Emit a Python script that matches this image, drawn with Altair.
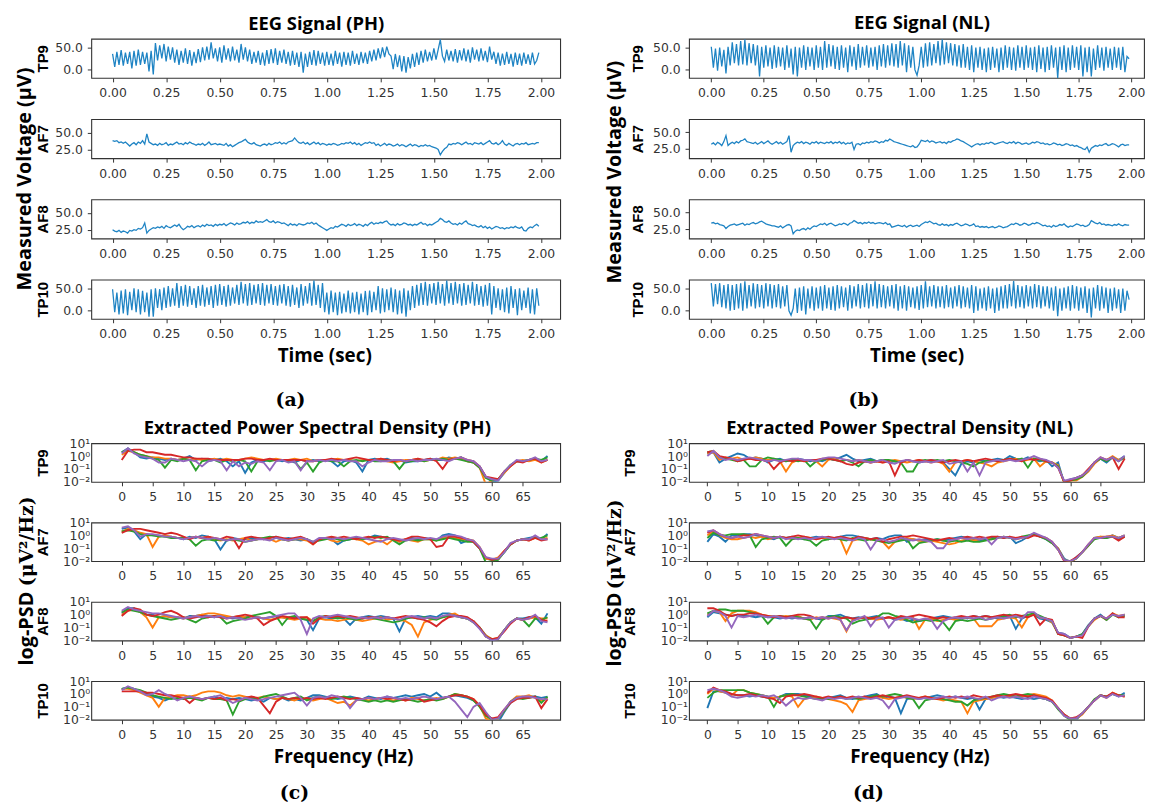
import altair as alt
import pandas as pd

# ---------------- data ----------------
time_s = [i / 100 for i in range(200)]          # sample times (s)
freq_hz = list(range(70))                         # PSD bins (Hz)
TIME_TICKS = [0, 0.25, 0.5, 0.75, 1.0, 1.25, 1.5, 1.75, 2.0]
FREQ_TICKS = [0, 5, 10, 15, 20, 25, 30, 35, 40, 45, 50, 55, 60, 65]
PSD_TICKS = [0.01, 0.1, 1, 10]
SERIES = ["s0", "s1", "s2", "s3", "s4"]
PSD_COLORS = ["#1f77b4", "#ff7f0e", "#2ca02c", "#d62728", "#9467bd"]
EEG_BLUE = "#1f84c4"

# EEG voltages (uV), PH subject
PH_TP9 = [35,5,40,10,44,8,38,12,40,2, 42,8,45,10,40,12,38,-5,42,-12,
          60,20,55,25,58,18,52,22,50,15, 45,10,42,15,48,12,44,8,40,14,
          46,16,50,20,52,22,62,25,48,18, 50,15,55,22,48,18,52,20,45,15,
          58,22,50,18,45,12,40,15,42,10, 38,8,44,12,46,14,48,10,42,15,
          45,12,40,8,42,10,38,5,40,-8, 36,5,40,10,44,8,42,12,38,8,
          40,10,36,8,42,12,38,6,40,10, 38,8,42,12,36,10,40,14,38,12,
          42,18,45,20,48,25,50,28,52,35, 30,0,35,5,32,-5,30,-8,28,2,
          35,5,38,10,42,15,45,18,40,20, 48,22,45,68,30,18,45,20,42,18,
          46,15,44,20,48,18,45,15,50,22, 45,18,48,20,42,16,52,22,40,12,
          38,8,36,10,40,12,35,6,38,10, 36,8,38,12,34,10,38,12,20,38]
PH_AF7 = [38,37,38,35,36,34,36,33,30,33, 35,32,36,34,38,33,48,36,34,32,
          33,31,34,32,33,35,31,33,32,34, 36,33,34,32,35,33,36,34,33,31,
          33,32,34,31,33,36,32,33,34,32, 33,32,31,34,30,32,29,31,33,35,
          36,38,40,36,34,33,35,32,31,30, 32,33,31,34,32,33,35,34,36,33,
          35,33,36,37,38,42,38,35,34,36, 33,35,32,34,36,33,35,32,34,33,
          31,33,32,34,33,31,32,34,33,35, 34,36,33,35,32,34,31,33,35,34,
          36,34,35,31,33,30,32,34,31,33, 32,30,31,33,30,32,31,29,31,33,
          30,32,31,29,31,30,32,30,31,29, 28,27,25,17,22,26,28,33,32,34,
          33,35,34,32,34,36,33,34,32,35, 34,33,35,32,34,36,38,34,33,35,
          32,34,38,33,31,34,32,30,33,34, 32,34,33,35,32,33,34,33,35,35]
PH_AF8 = [25,23,22,24,21,23,22,20,24,23, 25,24,27,26,28,35,20,24,26,28,
          27,29,28,30,27,31,29,28,30,32, 30,33,28,25,27,30,29,31,28,30,
          31,29,32,30,33,31,32,30,33,31, 33,32,34,31,33,35,34,32,35,33,
          34,36,35,37,34,36,35,38,36,37, 36,38,40,37,36,38,35,37,36,34,
          35,33,31,34,32,33,31,34,33,32, 33,35,34,36,33,35,32,30,28,26,
          24,26,28,27,30,29,31,33,32,30, 33,31,32,34,31,33,32,30,33,31,
          34,36,33,35,34,36,35,37,38,34, 32,33,31,34,32,33,35,34,32,33,
          31,33,32,34,36,33,34,31,33,32, 34,36,38,42,40,37,36,38,35,33,
          34,32,35,33,36,38,34,33,31,32, 30,29,31,28,30,27,29,26,28,30,
          29,27,28,26,28,27,29,28,30,28, 27,29,24,23,27,29,28,31,33,30]
PH_TP10 = [48,-5,40,-10,45,-8,48,-12,42,0, 50,-5,48,-10,44,-5,40,-15,48,-15,
           50,5,48,0,52,5,55,8,50,10, 62,5,55,10,58,8,55,12,50,5,
           55,10,58,8,52,12,55,5,58,10, 60,12,55,8,58,10,52,15,58,12,
           65,15,60,10,62,12,58,15,60,12, 62,10,58,15,60,12,55,10,58,15,
           60,10,55,8,58,12,52,5,60,10, 55,15,62,10,68,12,58,5,62,-5,
           40,-10,45,-5,40,-12,42,-8,38,-5, 45,-8,40,-5,42,-10,38,-5,44,-12,
           45,-5,42,0,55,-8,50,-5,48,0, 52,-5,48,-10,45,-8,50,-15,45,0,
           55,5,58,10,62,12,65,10,60,15, 62,12,65,15,60,10,68,15,62,12,
           65,15,60,10,62,12,58,15,65,10, 60,12,55,8,58,10,62,-10,55,5,
           50,0,48,-5,52,-8,55,5,48,-12, 50,0,45,5,52,-8,48,-10,50,10]

# EEG voltages (uV), NL subject
NL_TP9 = [52,5,48,-2,50,8,45,-8,52,10, 62,15,58,10,65,12,68,10,60,15,
          58,10,55,-15,52,5,55,8,50,2, 55,5,52,8,50,0,55,5,48,-10,
          52,-15,50,5,55,0,52,8,50,0, 55,5,52,0,65,5,58,8,55,2,
          52,0,55,5,50,-5,55,8,52,0, 58,5,52,10,55,5,50,8,52,0,
          55,8,58,5,55,10,60,8,58,5, 65,10,60,-5,55,5,52,0,-12,10,
          52,5,60,8,62,10,58,15,65,10, 68,12,62,15,60,10,58,8,55,5,
          58,5,52,0,55,-5,50,5,52,0, 48,-5,50,0,52,5,48,-5,50,0,
          55,5,52,0,50,-2,55,5,52,0, 55,5,50,0,52,-5,55,2,50,-5,
          52,0,55,5,50,-18,52,0,55,-5, 50,0,55,5,52,0,55,-15,50,-5,
          52,-15,48,0,55,5,50,-2,52,5, 48,0,52,5,50,0,52,-5,30,25]
NL_AF7 = [32,34,31,35,33,30,36,45,30,33, 35,33,36,34,37,38,40,36,35,34,
          33,35,32,34,36,33,35,37,34,32, 34,36,33,35,32,34,36,45,20,30,
          33,35,34,36,33,35,34,32,35,34, 36,33,35,34,33,35,34,36,33,35,
          34,36,33,35,32,34,33,35,24,32, 33,31,34,33,35,34,36,35,37,36,
          34,36,35,38,37,40,38,36,35,34, 33,32,31,30,29,28,30,27,28,32,
          38,37,36,38,35,37,36,34,35,36, 34,35,33,36,35,37,38,40,39,37,
          36,34,32,30,28,30,32,33,31,33, 32,34,33,35,34,32,33,34,35,36,
          34,33,35,34,36,33,35,34,32,33, 34,32,33,35,34,36,35,33,34,32,
          33,31,32,34,33,31,32,30,31,33, 32,30,31,29,30,28,27,25,24,28,
          20,26,28,30,29,31,30,32,33,30, 31,33,32,30,28,31,32,30,31,31]
NL_AF8 = [34,35,33,34,32,31,30,26,29,31, 32,33,31,32,33,34,31,33,32,34,
          35,33,34,36,37,35,33,32,31,30, 30,29,28,30,27,29,31,32,30,18,
          22,24,23,25,26,24,27,25,28,30, 29,31,33,32,34,31,33,34,32,30,
          31,33,32,34,33,31,34,35,38,36, 34,35,33,35,34,36,34,35,33,34,
          35,34,33,35,32,33,28,29,30,31, 30,29,31,28,30,31,29,30,31,29,
          32,34,36,35,37,35,33,34,32,31, 33,31,32,30,32,31,33,34,32,30,
          31,33,32,30,31,33,29,30,28,29, 28,29,27,28,29,27,28,30,29,27,
          28,29,31,33,32,34,33,31,32,34, 33,31,32,34,33,35,34,32,30,31,
          29,30,28,31,29,30,32,31,33,30, 28,30,29,31,33,32,30,31,29,30,
          32,38,36,34,33,35,32,33,31,32, 31,30,32,31,33,31,30,32,31,31]
NL_TP10 = [62,10,60,15,62,8,58,5,60,0, 58,2,60,5,62,0,66,5,58,10,
           62,5,60,8,58,5,62,10,60,5, 58,8,60,5,55,10,58,0,-10,5,
           50,-5,52,0,55,-8,50,5,55,0, 52,5,55,0,58,5,52,2,55,0,
           58,5,55,8,52,0,58,5,55,10, 60,5,58,8,62,5,60,10,66,5,
           60,8,58,5,55,10,58,5,60,0, 55,5,58,0,55,8,52,5,55,2,
           58,5,66,8,55,10,58,5,55,8, 55,5,58,8,52,5,55,10,58,5,
           55,8,52,5,58,-5,55,0,50,5, 52,0,55,5,50,-5,52,0,55,5,
           58,5,60,10,67,5,58,8,55,5, 58,10,55,5,60,8,58,5,55,10,
           55,5,52,0,55,-12,50,0,52,5, 55,0,58,5,55,0,52,5,55,-5,
           50,-15,52,5,58,0,55,5,52,-5, 50,0,52,5,48,-5,50,0,45,25]

# PSD, tenths of a decade: value = 10 ** (k / 10)  [blue, orange, green, red, purple]
PSD_PH_TP9 = [
    [3,6,3,-1,-2,-1,-2,-3,-2,-3, -2,0,-3,-2,-4,-3,-2,-4,-8,-4, -13,-5,-3,-4,-3,-3,-4,-3,-5,-3, -4,-3,-4,-3,-4,-8,-4,-3,-5,-12, -3,-2,-3,-2,-4,-3,-5,-4,-4,-3, -2,-3,-3,-1,-2,-1,-4,-5,-8,-16, -20,-19,-13,-7,-4,-4,-3,-2,-4,0],
    [1,4,3,1,0,-1,-1,-2,-2,-3, -2,-3,-2,-3,-3,-2,-3,-2,-3,-3, -2,-1,-2,-3,-3,-2,-3,-3,-2,-3, -2,-4,-3,-3,-3,-2,-3,-3,-4,-3, -3,-3,-2,-4,-5,-4,-3,-3,-2,-4, -3,-3,-1,-2,-1,-2,-4,-5,-9,-22, -19,-18,-13,-8,-4,-3,-4,-3,-5,-3],
    [3,5,3,1,0,-2,-3,-9,-3,-4, -2,-3,-11,-4,-3,-3,-5,-3,-4,-3, -4,-12,-4,-3,-4,-3,-3,-4,-4,-10, -5,-12,-5,-3,-4,-4,-8,-4,-3,-4, -3,-4,-4,-3,-4,-10,-4,-4,-3,-4, -3,-3,-2,-3,-2,-3,-4,-5,-9,-17, -19,-18,-12,-7,-4,-4,-3,-2,-3,-1],
    [-3,4,5,5,3,3,2,1,1,0, -1,-1,-2,-2,-2,-3,-3,-3,-3,-3, -2,-2,-3,-3,-2,-3,-3,-3,-3,-3, -4,-4,-3,-3,-2,-3,-3,-2,-1,-2, -3,-3,-2,-3,-4,-3,-4,-3,-2,-3, -2,-4,-10,-3,-2,-1,-3,-4,-8,-16, -17,-18,-12,-8,-4,-5,-3,-2,-5,-3],
    [2,6,2,0,-1,-2,-5,-5,-2,-3, -4,-3,-4,-8,-4,-3,-4,-11,-4,-8, -5,-6,-4,-5,-11,-4,-3,-5,-4,-11, -4,-4,-3,-4,-3,-4,-3,-4,-4,-8, -5,-3,-4,-4,-3,-3,-4,-3,-4,-3, -3,-2,-3,-4,-2,-1,-3,-4,-8,-16, -18,-19,-12,-7,-3,-4,-3,-1,-4,-3],
]
PSD_PH_AF7 = [
    [5,6,3,-3,1,0,0,-1,-1,-2, -3,-1,-2,0,-1,-3,-11,-4,-2,-3, -3,-2,-2,-3,-2,-1,-3,-2,-3,-4, -3,-6,-3,-2,-3,-7,-4,-3,-2,-3, -2,0,-1,-2,-3,-5,-3,-2,-3,-2, -3,-4,0,1,0,-6,-4,-5,-10,-18, -19,-18,-13,-7,-4,-3,-2,-1,-3,1],
    [3,5,4,2,1,-9,-1,0,-1,-2, -2,-2,-1,-2,-1,-3,-4,-3,-4,-3, -2,-4,-3,-2,-3,-5,-3,-4,-3,-3, -4,-7,-3,-2,-4,-5,-3,-2,-3,-4, -7,-5,-4,-7,-3,-5,-3,-4,-5,-3, -3,-4,-2,-1,-2,-3,-3,-4,-9,-18, -19,-17,-12,-7,-4,-3,-4,-2,-3,-2],
    [3,4,3,1,0,0,-1,-1,-2,-2, -2,-3,-8,-4,-3,-4,-3,-4,-3,-4, -5,-4,-3,-2,-1,-2,-3,-4,-3,-2, -3,-5,-4,-3,-2,-3,-4,-3,-2,-3, -2,-1,-2,-1,-4,-7,-4,-3,-4,-3, -3,-4,-3,-2,-3,-4,-5,-5,-10,-21, -20,-19,-13,-7,-4,-3,-3,-2,-2,0],
    [2,4,5,5,4,3,2,1,2,1, -1,-3,-1,-2,-1,-2,-3,-1,-2,-10, -2,-1,-2,-3,-2,-1,-2,-3,-2,-1, -3,-7,-3,-2,-1,-2,-1,-2,-3,-2, -1,-2,-1,-2,-3,-4,-3,-1,-1,-2, -3,-9,-8,-1,-1,-2,-3,-5,-10,-17, -19,-18,-12,-7,-4,-3,-4,-2,-4,-3],
    [6,7,4,-1,1,1,0,-1,-1,-2, -3,-2,-1,-2,-3,-2,-3,-4,-3,-3, -5,-4,-3,-3,-4,-2,-3,-4,-3,-2, -3,-5,-2,-2,-3,-2,-3,-2,-1,-2, -3,-4,-5,-3,-2,-3,-4,-3,-2,-3, -2,-3,-1,0,0,-1,-3,-4,-9,-17, -18,-18,-13,-6,-4,-3,-3,0,-3,-3],
]
PSD_PH_AF8 = [
    [1,5,5,2,0,0,-2,-1,-2,-2, -3,-1,-1,0,-1,-2,-1,-2,-3,-2, -2,-1,-2,-3,-2,-1,-2,-3,-2,-3, -4,-12,-3,-2,-3,-2,-3,-8,-3,-2, -1,-2,-1,-2,-3,-13,-3,-2,-1,-2, -1,-2,1,1,0,-2,-3,-5,-10,-16, -20,-18,-12,-6,-3,-3,-2,-2,-7,1],
    [0,3,4,2,-2,-10,-2,-1,-2,-2, -3,-2,-1,0,1,1,0,-1,-2,-1, -2,-3,-2,-3,-4,-3,-2,-3,-4,-3, -2,-5,-3,-4,-4,-5,-4,-3,-4,-5, -4,-3,-2,-4,-3,-4,-5,-8,-17,-6, -4,-3,-2,0,1,-2,-3,-5,-10,-16, -19,-18,-12,-6,-3,-4,-3,-2,-3,-3],
    [2,4,3,2,0,-1,-2,-3,-4,-3, -2,-4,-6,-3,-2,-1,-2,-7,-5,-4, -3,-1,0,1,2,-1,-8,-2,-1,-3, -4,-5,-2,-1,-2,-3,-2,-3,-4,-3, -2,-3,-4,-5,-6,-5,-3,-2,-3,-2, -3,-4,-2,-1,-1,-2,-3,-6,-10,-17, -19,-19,-12,-6,-3,-4,-9,-3,-4,-2],
    [-1,3,5,4,0,-1,0,2,3,1, -2,-3,-2,-1,-2,-1,-2,-3,-2,-1, 0,-1,-3,-8,-5,-3,-1,-2,-3,-2, -2,-7,-3,-1,-2,-1,-2,-1,-2,-3, -2,-2,-3,-2,-3,-2,-1,-2,-3,-4, -6,-9,-5,-2,-1,-1,-2,-5,-10,-17, -19,-18,-13,-7,-3,-4,-2,-1,-4,-5],
    [3,6,4,3,2,1,1,0,-1,-2, -3,-2,-1,-2,-1,-2,-1,-3,-2,-3, -4,-3,-2,-3,-2,-1,0,1,1,-4, -15,-3,-1,-2,-1,0,-1,-2,-3,-2, -3,-2,-3,-2,-3,-4,-2,-1,-2,-3, -2,-3,-1,0,-1,-2,-3,-6,-11,-17, -20,-19,-12,-6,-3,-4,-3,0,-5,-6],
]
PSD_PH_TP10 = [
    [4,5,4,2,0,-2,-3,-5,-3,-4, -3,-2,-3,-4,-3,-2,-4,-3,-4,-3, -4,-5,-4,-6,-3,-4,-3,-5,-4,-5, -3,-1,-1,-2,-3,-4,-3,-2,-3,-4, -2,-3,-4,-2,-3,-2,-1,-2,-1,0, -2,1,-3,-2,-1,-2,-3,-5,-9,-16, -19,-22,-14,-7,-3,-3,-2,-2,-3,-2],
    [4,4,3,1,-1,-3,-10,-3,-2,-1, -1,-2,-1,1,2,2,1,-1,-2,-1, -2,-3,-3,-2,-3,-4,-3,-4,-5,-3, -4,-5,-4,-3,-5,-7,-6,-9,-5,-4, -5,-4,-3,-4,-5,-4,-5,-3,-4,-5, -4,-3,-4,-2,0,-1,-2,-4,-9,-19, -21,-19,-13,-6,-2,-2,-1,-3,-5,-3],
    [4,5,4,3,1,-1,-2,-3,-4,-3, -4,-3,-4,-5,-3,-4,-4,-5,-16,-6, -4,-3,-4,-2,-1,0,-2,-4,-3,-2, -5,-3,-2,-3,-4,-3,-2,-3,-4,-5, -6,-5,-6,-5,-6,-5,-4,-5,-6,-5, -4,-5,-4,-2,0,-1,-2,-5,-10,-17, -20,-19,-13,-6,-3,-4,-3,-2,-7,-2],
    [2,2,2,2,1,1,0,-1,-1,-2, -3,-7,-3,-4,-3,-4,-3,-5,-4,-5, -3,-2,-3,-9,-15,-6,-3,-4,-3,-4, -3,-4,-3,-4,-3,-2,-3,-4,-3,-4, -3,-4,-3,-4,-3,-4,-5,-4,-3,-6, -5,-4,-3,-2,-1,-1,-2,-4,-9,-16, -19,-18,-12,-7,-4,-3,-3,-2,-11,-4],
    [3,6,4,2,-1,0,3,0,-2,-5, -3,-2,-3,-4,-3,-2,-1,-4,-7,-5, -3,-4,-5,-4,-3,-2,-1,0,1,-3, -9,-3,-2,-3,-1,-2,-4,-11,-5,-4, -3,-4,-3,-2,-3,-4,-3,-4,-3,-2, -3,-4,-3,-2,-6,-12,-18,-10,-7,-14, -20,-19,-12,-6,-3,-2,-2,-3,-4,-4],
]
PSD_NL_TP9 = [
    [2,3,-5,-2,0,2,1,-2,-1,-2, -5,-3,-2,-4,-3,-2,-3,-4,-3,-4, -2,-3,-1,1,-2,-4,-3,-2,-4,-3, -5,-4,-5,-3,-4,-5,-4,-3,-4,-5, -10,-15,-6,-4,-5,-3,-4,-3,-2,-3, 0,-2,-3,-1,-3,-4,-3,-8,-5,-21, -18,-17,-15,-11,-5,-2,-5,-1,-3,0],
    [2,3,-3,-1,-2,-1,-3,-2,-1,-2, -3,-2,-4,-12,-5,-3,-4,-3,-4,-8, -3,-2,-4,-3,-4,-3,-4,-5,-4,-5, -4,-3,-4,-5,-4,-3,-4,-5,-4,-6, -12,-5,-4,-3,-4,-5,-6,-8,-5,-4, -3,-2,-4,-3,-2,-8,-4,-5,-7,-21, -19,-19,-16,-12,-6,-2,-3,0,-3,-1],
    [3,4,-1,-2,-3,-4,-3,-8,-8,-3, -1,-2,-3,-4,-3,-4,-3,-8,-4,-3, -2,-3,-4,-3,-5,-8,-4,-3,-4,-3, -3,-4,-5,-12,-12,-4,-3,-4,-3,-4, -3,-4,-5,-6,-8,-5,-4,-3,-4,-3, -2,-3,-2,-9,-2,-3,-4,-5,-8,-20, -19,-18,-16,-11,-5,-2,-4,-1,-4,-1],
    [3,4,0,-1,-2,-4,-3,-2,-3,-3, -4,-10,-5,-3,-4,-3,-4,-3,-3,-2, -2,-3,-4,-6,-7,-5,-4,-5,-4,-5, -4,-15,-5,-3,-4,-3,-4,-3,-4,-5, -4,-3,-4,-3,-4,-3,-2,-3,-4,-3, -2,-3,-4,-2,-3,-2,-4,-5,-9,-20, -19,-17,-15,-10,-5,-1,-3,-1,-10,-2],
    [0,4,-1,-3,-2,-3,-2,-1,-2,-3, -4,-3,-4,-3,-2,-2,-3,-3,-4,-2, -1,-1,-2,-3,-4,-3,-4,-5,-4,-3, -5,-6,-4,-3,-4,-5,-4,-5,-4,-3, -6,-5,-4,-12,-5,-15,-5,-4,-3,-4, -3,-4,-3,-2,0,-2,-3,-5,-9,-19, -18,-17,-15,-11,-5,-1,-3,-1,-4,0],
]
PSD_NL_AF7 = [
    [-5,1,-1,-5,0,0,1,1,0,-1, -2,-3,-1,-2,-1,-2,-3,-2,-1,-2, -3,-2,-1,0,0,-1,-2,-3,-2,-3, -1,0,0,-5,-3,-4,-3,-4,-3,-4, -3,-2,-1,-2,-3,-4,-3,-2,-1,-2, -1,-6,-4,-1,1,-1,-3,-6,-10,-18, -21,-17,-13,-8,-2,-1,-2,0,-2,0],
    [0,3,0,-2,-3,-3,-2,-1,-2,-1, -3,-2,-1,-2,-3,-2,-1,-2,-3,-2, -3,-2,-3,-14,-4,-3,-2,-3,-4,-5, -10,-5,-3,-2,-3,-4,-5,-4,-5,-6, -7,-6,-4,-3,-4,-3,-2,-3,-2,-1, -2,-3,-2,-1,1,-1,-2,-6,-10,-19, -21,-18,-13,-8,-2,-1,-1,0,-2,0],
    [-2,2,0,0,1,1,1,0,-9,-3, -2,-1,-2,-8,-3,-2,-3,-4,-8,-4, -3,-2,-3,-4,-2,-3,-4,-3,-4,-5, -6,-5,-4,-3,-10,-6,-5,-4,-3,-4, -5,-4,-5,-4,-5,-5,-4,-3,-2,-1, -2,-3,-1,0,1,-1,-3,-6,-11,-19, -20,-18,-13,-8,-3,-2,-2,-1,-3,-1],
    [2,4,1,-1,-2,-1,0,0,1,0, -1,-2,-1,-2,-1,0,-1,-2,-3,-2, -1,-2,-1,-2,-3,-1,-2,-3,-2,-5, -3,-2,-1,-1,0,-1,-2,-3,-4,-3, -2,-3,-2,-1,-2,-1,-2,-1,-1,-2, -1,-2,-1,-2,0,-1,-2,-5,-11,-20, -20,-17,-13,-7,-2,-2,-1,-1,-4,-1],
    [3,4,1,-1,-2,-1,-2,-1,1,0, -1,-2,-1,-3,-2,-3,-2,-3,-2,-1, -2,-3,-2,-3,-4,-2,-3,-11,-4,-3, -5,-4,-2,-3,-4,-3,-4,-5,-10,-10, -4,-3,-2,-3,-2,-3,-2,-7,-2,-1, -2,-3,-2,-1,2,0,-2,-5,-11,-19, -20,-18,-13,-7,-2,-2,-1,-1,-2,0],
]
PSD_NL_AF8 = [
    [-2,2,1,0,-1,0,-1,-1,-2,-1, -2,-2,-3,-2,-3,-2,-3,-2,-3,-4, -1,-1,0,-2,-3,-2,-3,-2,-1,-3, -2,-4,-3,-5,-4,-5,-4,-3,-2,-1, -2,-3,-2,-3,-1,-2,-1,-2,-3,-2, -1,-11,-3,-1,0,-3,-4,-6,-14,-15, -18,-17,-15,-8,-3,0,-4,1,-2,0],
    [0,3,2,-5,1,3,3,3,2,0, -1,-1,-2,-1,-2,-1,-3,-4,-2,-3, -2,-3,-4,-13,-4,-3,-2,-3,-4,-3, -2,-3,-4,-3,-2,-11,-4,-3,-5,-4, -3,-4,-3,-2,-3,-9,-9,-9,-4,-3, -2,-3,-10,-2,1,-2,-3,-6,-15,-16, -18,-17,-16,-9,-4,-1,-4,1,-1,0],
    [1,3,4,4,3,3,3,2,1,-1, -7,-2,-1,-2,-1,-2,-3,-4,-11,-4, -2,-1,-2,-3,-7,-5,-4,-3,-2,1, 1,-1,-2,-4,-6,-5,-4,-5,-4,-6, -12,-5,-4,-5,-4,-3,-4,-3,-2,-1, 0,-2,-1,0,1,-1,-3,-5,-15,-16, -18,-17,-15,-9,-3,-1,-4,0,-2,-1],
    [5,5,3,0,-1,0,0,1,1,0, -1,-2,-1,-2,-1,0,0,-1,-3,-2, -3,-2,-3,-2,-3,-3,-2,-3,-2,-3, -2,-3,-1,-2,-1,0,-1,-2,-3,-2, -3,-2,-1,-2,-1,-2,-1,-2,-1,0, -1,0,-1,-2,0,-8,-3,-4,-15,-16, -18,-17,-18,-9,-3,-1,-3,1,-2,-2],
    [-1,3,2,-1,-10,-1,-2,-1,0,-1, -2,-1,-2,-3,-2,-3,-3,-2,-3,-2, -3,-2,-4,-12,-5,-3,-1,-9,-3,-2, -10,-4,-3,-2,-3,-4,-3,-4,-11,-5, -3,-2,-3,-2,-3,-2,-4,-3,-2,-3, -2,-1,-3,2,2,-2,-3,-5,-14,-15, -18,-17,-16,-9,-3,-1,-3,0,-1,0],
]
PSD_NL_TP10 = [
    [-11,2,2,1,0,-1,-1,-2,-1,-2, -3,-3,-2,0,0,0,-1,-2,-3,-4, -3,-2,-1,-3,-4,-3,-2,-1,0,-3, -2,-3,-15,-4,-3,-4,-3,-2,-1,-2, -3,-2,-3,-4,-3,-12,-4,-3,-2,-3, -2,-3,-4,-3,-4,-3,-4,-6,-11,-16, -19,-20,-15,-10,-5,-1,-2,0,-2,1],
    [0,4,2,1,-1,3,3,1,0,-1, -2,-3,-2,-1,-2,-10,-4,-3,-2,-3, -4,-5,-6,-8,-14,-5,-4,-3,-2,-3, -4,-3,-2,-3,-4,-3,-2,-3,-4,-5, -4,-5,-6,-15,-6,-5,-4,-3,-2,-1, -2,-1,-2,-1,0,-1,-2,-5,-11,-16, -19,-19,-16,-10,-5,-1,-3,1,-1,-2],
    [-3,1,3,3,3,3,3,1,0,-1, -2,-10,-2,-1,0,-1,-2,-3,-4,-3, -4,-3,-2,-4,-3,-4,-3,-2,-1,-2, -1,0,-1,-3,-4,-11,-5,-4,-3,-4, -5,-6,-6,-9,-5,-4,-3,-2,-1,0, -1,-2,-1,0,-1,-3,-4,-6,-12,-17, -20,-19,-15,-10,-4,-1,-2,0,-1,-1],
    [1,5,3,2,0,-1,-1,0,-1,-2, -3,-4,-7,-2,-1,-1,0,-1,-2,-3, -2,-3,-2,-3,-2,-3,-2,-3,-2,-1, -2,-3,-2,-1,-2,-3,-2,-3,-4,-3, -2,-3,-2,-3,-1,-2,-3,-2,-1,-2, -1,0,-1,-2,-1,-2,-3,-5,-11,-16, -19,-18,-15,-10,-5,-1,-2,1,-1,-2],
    [3,4,3,1,-2,-3,-2,-1,-2,-1, -2,-1,-4,-9,-5,-3,-4,-3,-4,-5, -3,-4,-3,-4,-3,-2,-3,-4,-3,-5, -11,-4,-3,-2,-3,-4,-3,-4,-3,-2, -3,-2,-3,-2,-3,-4,-2,-5,-3,-2, -3,-2,-3,-4,-2,-3,-4,-6,-11,-17, -19,-19,-15,-10,-5,-1,-3,0,-2,-1],
]

# ---------------- styling ----------------
FONT_T = "Open Sans"
FONT_R = "Liberation Sans"
FONT_TICK = "DejaVu Sans"
W_L, W_R = 473, 459
H_EEG, H_PSD = 39.5, 39
SUP = ("datum.value >= 5 ? '10\u00b9' : datum.value >= 0.5 ? '10\u2070' : "
       "datum.value >= 0.05 ? '10\u207b\u00b9' : '10\u207b\u00b2'")


def rot_text(text, x, y, font, size):
    return alt.Chart(alt.Data(values=[{"txt": text}])).mark_text(
        angle=270, font=font, fontSize=size, fontWeight="bold", color="black",
        align="center", baseline="middle"
    ).encode(x=alt.value(x), y=alt.value(y), text="txt:N")


def panel_title(text, dx, offset):
    return alt.TitleParams(text=text, font=FONT_T, fontSize=18.5, fontWeight="bold",
                           color="black", anchor="middle", frame="group", offset=offset, dx=dx)


def x_axis(values, fmt, xtitle):
    kw = dict(values=values, format=fmt, tickSize=4, labelPadding=5)
    if xtitle is not None:
        kw.update(title=xtitle[0], titleX=xtitle[1], titleY=37, titleBaseline="middle",
                  titleAlign="center", titleFont=FONT_T, titleFontSize=19, titleFontWeight="bold")
    else:
        kw.update(title=None)
    return alt.Axis(**kw)


def y_title_kw(channel, rowlab_x, h):
    return dict(title=channel, titleX=rowlab_x, titleY=h / 2, titleAngle=270,
                titleBaseline="middle", titleAlign="center", titleFont=FONT_R,
                titleFontSize=15, titleFontWeight="bold")


def eeg_cell(vals, channel, xdom, width, ydom, yticks, rowlab_x,
             title=None, xtitle=None, extra=()):
    df = pd.DataFrame({"t": time_s[:len(vals)], "v": vals})
    line = alt.Chart(df).mark_line(color=EEG_BLUE, strokeWidth=1.3, clip=True).encode(
        x=alt.X("t:Q", scale=alt.Scale(domain=xdom, nice=False, zero=False),
                axis=x_axis(TIME_TICKS, ".2f", xtitle)),
        y=alt.Y("v:Q", scale=alt.Scale(domain=ydom, nice=False, zero=False),
                axis=alt.Axis(values=yticks, format=".1f", tickSize=4, labelPadding=5,
                              **y_title_kw(channel, rowlab_x, H_EEG))),
    )
    ch = alt.layer(line, *extra).properties(width=width, height=H_EEG)
    if title is not None:
        ch = ch.properties(title=title)
    return ch


def psd_cell(series_lists, channel, xdom, width, rowlab_x,
             title=None, xtitle=None, extra=()):
    rows = []
    for name, vals in zip(SERIES, series_lists):
        for f, k in zip(freq_hz, vals):
            rows.append({"f": f, "v": 10 ** (k / 10), "s": name})
    df = pd.DataFrame(rows)
    lines = alt.Chart(df).mark_line(strokeWidth=1.9, clip=True).encode(
        x=alt.X("f:Q", scale=alt.Scale(domain=xdom, nice=False, zero=False),
                axis=x_axis(FREQ_TICKS, "d", xtitle)),
        y=alt.Y("v:Q", scale=alt.Scale(type="log", domain=[0.01, 10], nice=False),
                axis=alt.Axis(values=PSD_TICKS, labelExpr=SUP, ticks=False, labelPadding=1.5,
                              **y_title_kw(channel, rowlab_x, H_PSD))),
        color=alt.Color("s:N", scale=alt.Scale(domain=SERIES, range=PSD_COLORS), legend=None),
        detail="s:N",
    )
    ch = alt.layer(lines, *extra).properties(width=width, height=H_PSD)
    if title is not None:
        ch = ch.properties(title=title)
    return ch


def caption_cell(text, x, y, width, height):
    return alt.Chart(alt.Data(values=[{"c": text}])).mark_text(
        font="DejaVu Serif", fontSize=19, fontWeight="bold", color="black",
        align="center", baseline="middle"
    ).encode(x=alt.value(x), y=alt.value(y), text="c:N").properties(
        width=width, height=height, view=alt.ViewBackground(strokeOpacity=0))


XD_A = [-0.0995, 2.0895]
XD_B = [-0.106, 2.061]
XD_C = [-4.94, 71.05]
XD_D = [-3.03, 72.2]
YD_TP_A, YD_AF_A = [-20, 70], [12, 70]
YD_TP_B, YD_AF_B = [-18, 70], [11, 70]

cells = [
    eeg_cell(PH_TP9, "TP9", XD_A, W_L, YD_TP_A, [0, 50], -49.5,
             title=panel_title("EEG Signal (PH)", -9.5, 5)),
    eeg_cell(NL_TP9, "TP9", XD_B, W_R, YD_TP_B, [0, 50], -52,
             title=panel_title("EEG Signal (NL)", 5.5, 6)),
    eeg_cell(PH_AF7, "AF7", XD_A, W_L, YD_AF_A, [25, 50], -49.5,
             extra=[rot_text("Measured Voltage (\u03bcV)", -66.5, 60.5, FONT_T, 20)]),
    eeg_cell(NL_AF7, "AF7", XD_B, W_R, YD_AF_B, [25, 50], -52,
             extra=[rot_text("Measured Voltage (\u03bcV)", -75, 53.5, FONT_T, 20)]),
    eeg_cell(PH_AF8, "AF8", XD_A, W_L, YD_AF_A, [25, 50], -49.5),
    eeg_cell(NL_AF8, "AF8", XD_B, W_R, YD_AF_B, [25, 50], -52),
    eeg_cell(PH_TP10, "TP10", XD_A, W_L, YD_TP_A, [0, 50], -49.5, xtitle=("Time (sec)", 235)),
    eeg_cell(NL_TP10, "TP10", XD_B, W_R, YD_TP_B, [0, 50], -52, xtitle=("Time (sec)", 229.5)),
    caption_cell("(a)", 201, 40, W_L, 43),
    caption_cell("(b)", 176.5, 40, W_R, 43),
    psd_cell(PSD_PH_TP9, "TP9", XD_C, W_L, -49,
             title=panel_title("Extracted Power Spectral Density (PH)", -8.5, 0)),
    psd_cell(PSD_NL_TP9, "TP9", XD_D, W_R, -59.5,
             title=panel_title("Extracted Power Spectral Density (NL)", -17, 0)),
    psd_cell(PSD_PH_AF7, "AF7", XD_C, W_L, -49),
    psd_cell(PSD_NL_AF7, "AF7", XD_D, W_R, -59.5),
    psd_cell(PSD_PH_AF8, "AF8", XD_C, W_L, -49,
             extra=[rot_text("log-PSD", -65, 27, FONT_T, 20),
                    rot_text("(\u03bcV\u00b2/Hz)", -65, -61, "DejaVu Serif", 19)]),
    psd_cell(PSD_NL_AF8, "AF8", XD_D, W_R, -59.5,
             extra=[rot_text("log-PSD", -75, 28, FONT_T, 20),
                    rot_text("(\u03bcV\u00b2/Hz)", -75, -58, "DejaVu Serif", 19)]),
    psd_cell(PSD_PH_TP10, "TP10", XD_C, W_L, -49, xtitle=("Frequency (Hz)", 254)),
    psd_cell(PSD_NL_TP10, "TP10", XD_D, W_R, -59.5, xtitle=("Frequency (Hz)", 232.5)),
    caption_cell("(c)", 205, 33, W_L, 30),
    caption_cell("(d)", 181, 33, W_R, 30),
]

chart = alt.concat(
    *cells, columns=2, spacing={"row": 41, "column": 130}, bounds="flush", align="each"
).properties(
    padding={"left": 6, "top": 1.5, "right": 0, "bottom": 0}
).configure_view(
    stroke="#333333", strokeWidth=1.1
).configure_axis(
    labelFont=FONT_TICK, labelFontSize=12.5, labelColor="#333333", tickColor="#333333",
    titleColor="black", domain=False, grid=False, labelFlush=False, labelOverlap=False
)

chart.save("out.html", embed_options={"renderer": "svg", "actions": False})
